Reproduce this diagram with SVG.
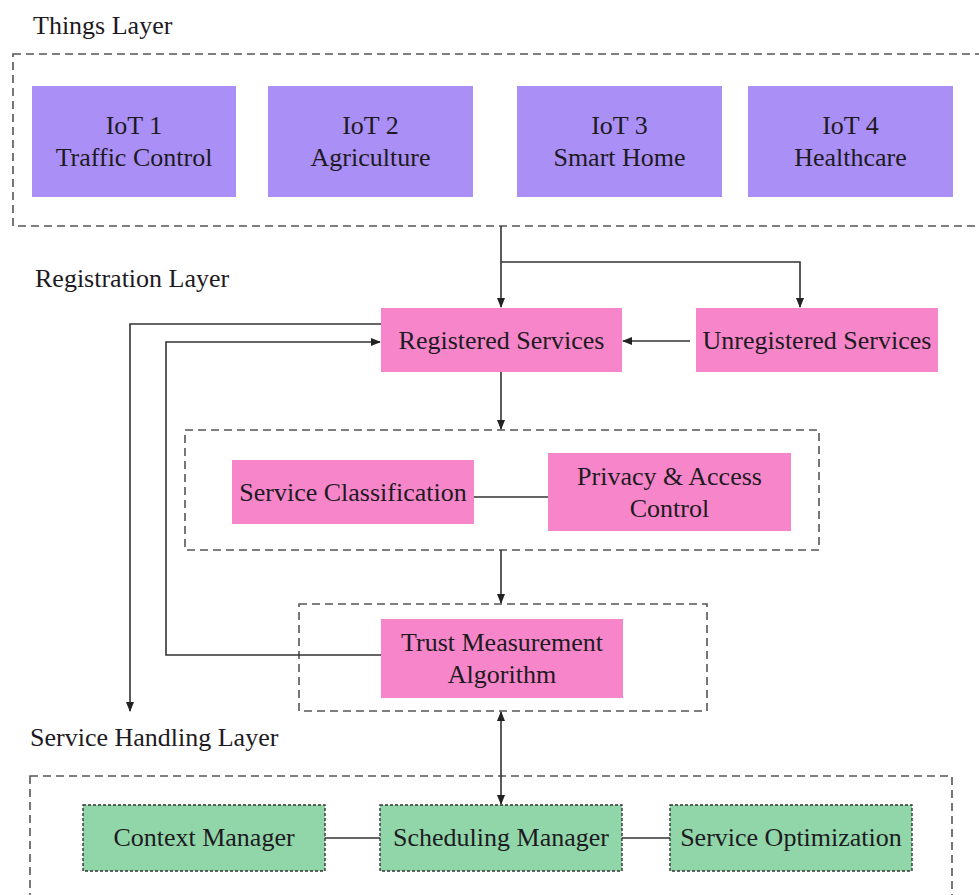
<svg xmlns="http://www.w3.org/2000/svg" width="979" height="895" viewBox="0 0 979 895">
<defs>
<style>
text{font-family:"Liberation Serif","Times New Roman",serif;font-size:26px;fill:#1e1a22}
.c{text-anchor:middle}
.grp{fill:none;stroke:#555;stroke-width:1.6;stroke-dasharray:8,5}
.iot{fill:#a98ff6}
.pink{fill:#f686c9}
.green{fill:#90d6a9;stroke:#333;stroke-width:1.4;stroke-dasharray:3,2}
.ln{fill:none;stroke:#333;stroke-width:1.6}
</style>
<marker id="ah" markerWidth="10" markerHeight="8" refX="9" refY="4" orient="auto" markerUnits="userSpaceOnUse">
<path d="M0,0 L10,4 L0,8 Z" fill="#222"/>
</marker>
<marker id="ahs" markerWidth="10" markerHeight="8" refX="1" refY="4" orient="auto" markerUnits="userSpaceOnUse">
<path d="M10,0 L0,4 L10,8 Z" fill="#222"/>
</marker>
</defs>
<rect width="979" height="895" fill="#fff"/>

<g id="layers">
<text x="33" y="34">Things Layer</text>
<rect class="grp" x="13" y="54" width="980" height="172"/>
<text x="35" y="287">Registration Layer</text>
<text x="30" y="746">Service Handling Layer</text>
<rect class="grp" x="30" y="776" width="922" height="200"/>
<rect class="grp" x="185" y="430" width="634" height="120"/>
<rect class="grp" x="299" y="604" width="408" height="107"/>
</g>

<g id="iot1"><rect class="iot" x="32" y="86" width="204" height="111"/><text class="c" x="134" y="134">IoT 1</text><text class="c" x="134" y="166">Traffic Control</text></g>
<g id="iot2"><rect class="iot" x="268" y="86" width="205" height="111"/><text class="c" x="370.5" y="134">IoT 2</text><text class="c" x="370.5" y="166">Agriculture</text></g>
<g id="iot3"><rect class="iot" x="517" y="86" width="205" height="111"/><text class="c" x="619.5" y="134">IoT 3</text><text class="c" x="619.5" y="166">Smart Home</text></g>
<g id="iot4"><rect class="iot" x="748" y="86" width="205" height="111"/><text class="c" x="850.5" y="134">IoT 4</text><text class="c" x="850.5" y="166">Healthcare</text></g>

<g id="registered"><rect class="pink" x="381" y="308" width="241" height="64"/><text class="c" x="501.5" y="349">Registered Services</text></g>
<g id="unregistered"><rect class="pink" x="696" y="308" width="242" height="64"/><text class="c" x="817" y="349">Unregistered Services</text></g>
<g id="classification"><rect class="pink" x="232" y="460" width="242" height="64"/><text class="c" x="353" y="501">Service Classification</text></g>
<g id="privacy"><rect class="pink" x="548" y="453" width="243" height="78"/><text class="c" x="669.5" y="485">Privacy &amp; Access</text><text class="c" x="669.5" y="517">Control</text></g>
<g id="trust"><rect class="pink" x="381" y="619" width="242" height="79"/><text class="c" x="502" y="651">Trust Measurement</text><text class="c" x="502" y="683">Algorithm</text></g>

<g id="context"><rect class="green" x="83" y="805" width="242" height="66"/><text class="c" x="204" y="846">Context Manager</text></g>
<g id="scheduling"><rect class="green" x="380" y="805" width="242" height="66"/><text class="c" x="501" y="846">Scheduling Manager</text></g>
<g id="optimization"><rect class="green" x="670" y="805" width="242" height="66"/><text class="c" x="791" y="846">Service Optimization</text></g>

<g id="connectors">
<path class="ln" d="M501,226 V307" marker-end="url(#ah)"/>
<path class="ln" d="M501,262 H800 V307" marker-end="url(#ah)"/>
<path class="ln" d="M690,341 H623" marker-end="url(#ah)"/>
<path class="ln" d="M501,372 V429" marker-end="url(#ah)"/>
<path class="ln" d="M501,550 V603" marker-end="url(#ah)"/>
<path class="ln" d="M381,324 H130 V711" marker-end="url(#ah)"/>
<path class="ln" d="M381,655 H166 V342 H380" marker-end="url(#ah)"/>
<path class="ln" d="M501,712 V804" marker-start="url(#ahs)" marker-end="url(#ah)"/>
<path class="ln" d="M474,497 H548"/>
<path class="ln" d="M325,838 H380"/>
<path class="ln" d="M622,838 H670"/>
</g>
</svg>
